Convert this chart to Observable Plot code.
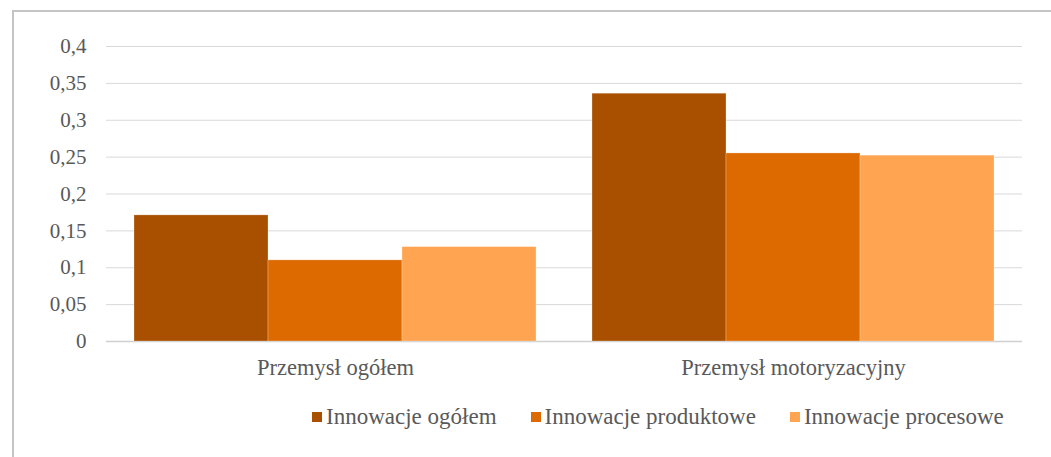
<!DOCTYPE html>
<html>
<head>
<meta charset="utf-8">
<script src="https://cdn.jsdelivr.net/npm/d3@7"></script>
<script src="https://cdn.jsdelivr.net/npm/@observablehq/plot@0.6"></script>
<style>
  html, body { margin: 0; padding: 0; background: #fff; }
  #wrap { position: relative; width: 1051px; height: 457px; overflow: hidden; font-family: "Liberation Serif", "DejaVu Serif", serif; }
  #frame { position: absolute; left: 12px; top: 10px; width: 1100px; height: 500px; border-top: 2px solid #c4c4c4; border-left: 2px solid #c4c4c4; box-sizing: border-box; }
  #chart { position: absolute; left: 0; top: 0; }
  #chart svg, #chart svg text { font-family: "Liberation Serif", "DejaVu Serif", serif !important; }
  #legend { position: absolute; left: 312px; top: 404px; display: flex; align-items: center; color: #595959; font-size: 23px; white-space: nowrap; }
  .item { display: flex; align-items: center; margin-right: 34px; }
  .sw { width: 10px; height: 10px; margin-right: 4px; }
</style>
</head>
<body>
<div id="wrap">
  <div id="frame"></div>
  <div id="chart"></div>
  <div id="legend"></div>
</div>
<script>
const categories = ["Przemysł ogółem", "Przemysł motoryzacyjny"];
const series = ["Innowacje ogółem", "Innowacje produktowe", "Innowacje procesowe"];
const innowacjeOgolem = [0.171, 0.336];
const innowacjeProduktowe = [0.110, 0.255];
const innowacjeProcesowe = [0.128, 0.252];
const colors = ["#A84F00", "#DD6A00", "#FFA552"];
const yTicks = [0, 0.05, 0.1, 0.15, 0.2, 0.25, 0.3, 0.35, 0.4];

const valuesBySeries = [innowacjeOgolem, innowacjeProduktowe, innowacjeProcesowe];
const data = [];
categories.forEach((c, ci) => series.forEach((s, si) => data.push({cat: c, series: s, value: valuesBySeries[si][ci]})));

const fmt = d => String(d).replace(".", ",");

const chart = Plot.plot({
  width: 1051,
  height: 390,
  marginLeft: 106,
  marginRight: 29,
  marginTop: 46,
  marginBottom: 49,
  style: {fontFamily: "Liberation Serif, DejaVu Serif, serif", color: "#595959", background: "transparent"},
  fx: {domain: categories, paddingInner: 0.118, paddingOuter: 0.059, label: null},
  x: {domain: series, padding: 0, axis: null},
  y: {domain: [0, 0.4], ticks: yTicks, label: null},
  color: {domain: series, range: colors},
  marks: [
    Plot.ruleY(yTicks.filter(d => d > 0), {stroke: "#d9d9d9", strokeWidth: 1, insetLeft: -27, insetRight: -27}),
    Plot.ruleY([0], {stroke: "#d0d0d0", strokeWidth: 1.5, insetLeft: -27, insetRight: -27}),
    Plot.axisY({ticks: yTicks, tickSize: 0, tickPadding: 47, tickFormat: fmt, fontSize: 21, label: null}),
    Plot.axisFx({anchor: "bottom", tickSize: 0, tickPadding: 18, fontSize: 22.5, label: null}),
    Plot.barY(data, {fx: "cat", x: "series", y: "value", fill: "series", stroke: "#ffffff", strokeOpacity: 0.35, strokeWidth: 0.75})
  ]
});
document.getElementById("chart").appendChild(chart);

const legend = document.getElementById("legend");
series.forEach((s, i) => {
  const it = document.createElement("div");
  it.className = "item";
  const sw = document.createElement("span");
  sw.className = "sw";
  sw.style.background = colors[i];
  const t = document.createElement("span");
  t.textContent = s;
  it.appendChild(sw); it.appendChild(t);
  legend.appendChild(it);
});
</script>
</body>
</html>
